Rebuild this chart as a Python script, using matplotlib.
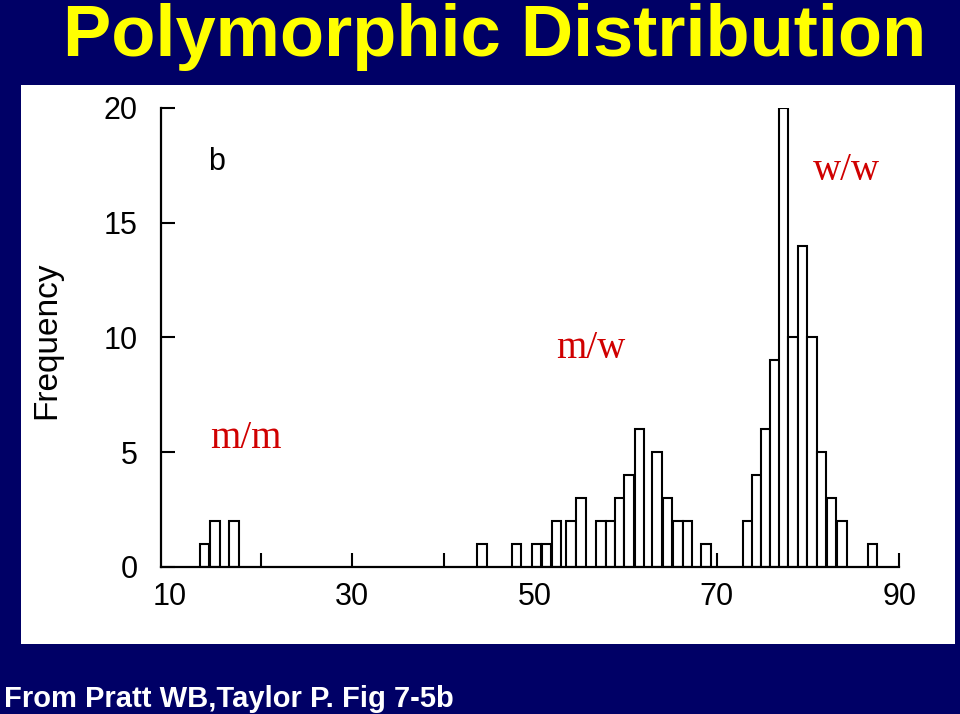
"""
Polymorphic distribution slide: frequency histogram with genotype labels.
"""

import matplotlib

matplotlib.use("Agg")
import matplotlib.pyplot as plt
from matplotlib.patches import Rectangle

NAVY = "#000066"
RED = "#d00000"

# bin centres, with their counts
left_centers = [13.8, 14.9, 17.0, 44.2]
left_counts = [1, 2, 2, 1]
mid_centers = [48.0, 50.2, 51.3, 52.4, 54.0, 55.1, 57.3, 58.3, 59.3, 60.35,
               61.5, 63.45, 64.6, 65.75, 66.8, 68.8]
mid_counts = [1, 1, 1, 2, 2, 3, 2, 2, 3, 4, 6, 5, 3, 2, 2, 1]
right_centers = [73.42, 74.35, 75.36, 76.35, 77.32, 78.35, 79.4, 80.44,
                 81.5, 82.6, 83.75, 87.05]
right_counts = [2, 4, 6, 9, 20, 10, 14, 10, 5, 3, 2, 1]

x_major = [10, 30, 50, 70, 90]
x_minor = [20, 40, 60, 80]
y_ticks = [0, 5, 10, 15, 20]

genotype_labels = ["m/m", "m/w", "w/w"]
genotype_pos = [(14.4, 5.2), (52.4, 9.1), (80.5, 16.85)]

TITLE = "Polymorphic Distribution"
SOURCE = "From Pratt WB,Taylor P. Fig 7-5b"


def run(path="out.png"):
    fig = plt.figure(figsize=(9.6, 7.14), dpi=100, facecolor=NAVY)
    fig.patches.append(Rectangle((21 / 960, 1 - 644 / 714), 934 / 960, 559 / 714,
                                 transform=fig.transFigure, facecolor="white",
                                 edgecolor="none", zorder=-10))

    ax = fig.add_axes([161 / 960, 1 - 567 / 714, 740 / 960, 459 / 714])
    ax.set_zorder(1)
    ax.set_facecolor("none")
    centers = left_centers + mid_centers + right_centers
    counts = left_counts + mid_counts + right_counts
    ax.bar(centers, counts, width=1.04, color="white", edgecolor="black",
           linewidth=1.5)

    ax.set_xlim(9.0, 90.2)
    ax.set_ylim(0, 20)
    for side in ("top", "right"):
        ax.spines[side].set_visible(False)
    for side in ("left", "bottom"):
        ax.spines[side].set_linewidth(1.6)
    ax.spines["bottom"].set_bounds(9.0, 90)
    ax.set_axisbelow(True)

    ax.set_xticks(x_major)
    ax.set_xticks(x_minor, minor=True)
    ax.set_yticks(y_ticks)
    ax.tick_params(axis="x", which="both", direction="in", length=10, width=1.5,
                   pad=11, labelsize=22)
    ax.tick_params(axis="y", direction="in", length=10, width=1.5, pad=17,
                   labelsize=22)
    # the scan shows no mark at 10, it sits on the y axis
    ax.xaxis.get_major_ticks()[0].tick1line.set_visible(False)
    for lab in ax.get_xticklabels() + ax.get_yticklabels():
        lab.set_family("Liberation Sans")

    ax.set_ylabel("Frequency", fontsize=24, family="Liberation Sans")
    ax.yaxis.set_label_coords(-0.133, 0.495)

    ax.text(14.2, 17.3, "b", fontsize=22, family="Liberation Sans", va="baseline")
    for lab, (x, y) in zip(genotype_labels, genotype_pos):
        ax.text(x, y, lab, color=RED, fontsize=28, family="Liberation Serif",
                va="baseline")

    fig.text(495 / 960, 1 - 56 / 714, TITLE, color="#ffff00", fontsize=52,
             fontweight="bold", family="Liberation Sans", ha="center",
             va="baseline")
    fig.text(4 / 960, 1 - 707 / 714, SOURCE, color="white", fontsize=21,
             fontweight="bold", family="Liberation Sans", va="baseline")

    fig.savefig(path, dpi=100, facecolor=NAVY)
    plt.close(fig)


if __name__ == "__main__":
    run()
